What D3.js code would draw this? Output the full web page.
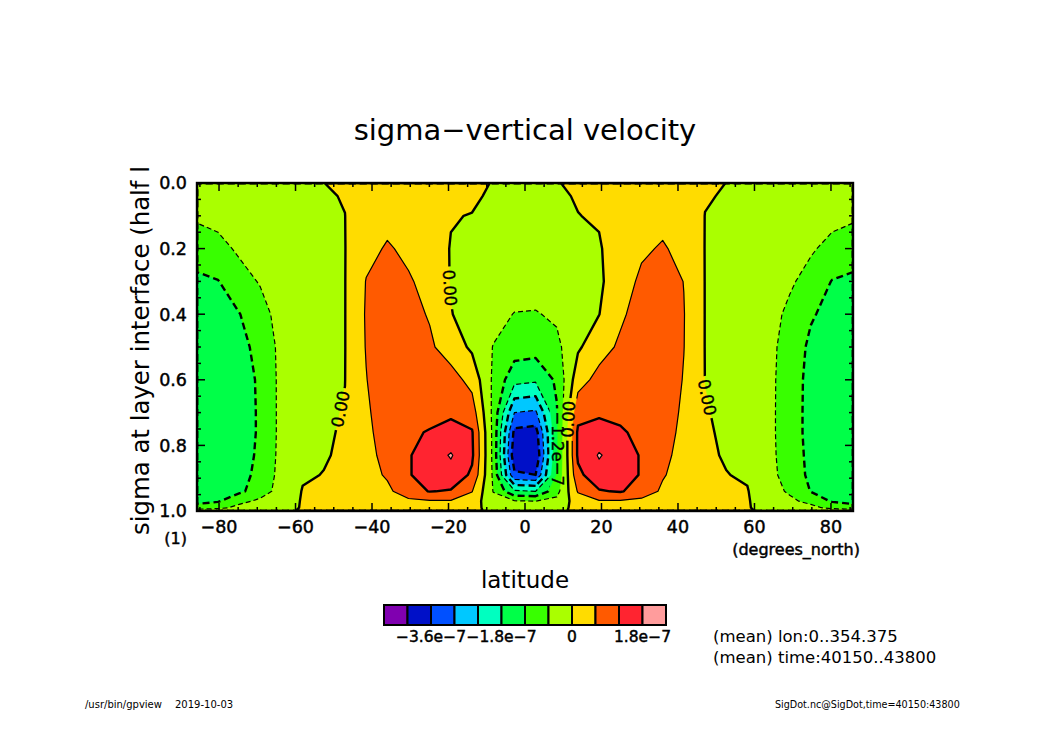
<!DOCTYPE html>
<html><head><meta charset="utf-8">
<script src="https://cdn.jsdelivr.net/npm/d3@7"></script>
<style>body{margin:0;background:#fff} text{font-family:'DejaVu Sans',sans-serif}</style>
</head><body>
<svg id="c" width="1050" height="742" xmlns="http://www.w3.org/2000/svg"></svg>
<script>
// ---------------- data ----------------
// latitudes (T21 Gaussian grid, degrees_north)
const lats = [-85.76,-80.27,-74.74,-69.21,-63.68,-58.14,-52.61,-47.07,-41.53,-36.00,-30.46,-24.92,-19.38,-13.84,-8.31,-2.77,
               2.77,8.31,13.84,19.38,24.92,30.46,36.00,41.53,47.07,52.61,58.14,63.68,69.21,74.74,80.27,85.76];
// sigma at layer interface
const sigmas = [0,0.04,0.1,0.2,0.3,0.4,0.5,0.6,0.7,0.76,0.83,0.89,0.94,0.97,0.99,1.0];
// contour levels (units of 1e-7)
const levels = [-4.2,-3.6,-3.0,-2.4,-1.8,-1.2,-0.6,0,0.6,1.2,1.8];
const colors = ["#8000b0","#0010c8","#0050ff","#00c8ff","#00ffc0","#00ff48","#38ff00","#aaff00","#ffdc00","#ff5a00","#ff2430","#ff9c9c"];
const cbTicks = [-3.6,-1.8,0,1.8];
const xTicks = [-80,-60,-40,-20,0,20,40,60,80];
const yTicks = [0,0.2,0.4,0.6,0.8,1.0];
// sigma-vertical velocity (1e-7 s-1); one row per latitude, values along sigmas
const sigmaDot = [
 [-0.05,-0.2,-0.5,-0.95,-1.3,-1.45,-1.55,-1.6,-1.6,-1.6,-1.55,-1.5,-1.45,-1.35,-1.0,-0.1],
 [-0.04,-0.15,-0.4,-0.8,-1.22,-1.35,-1.45,-1.5,-1.5,-1.5,-1.45,-1.4,-1.35,-1.25,-0.8,-0.08],
 [-0.03,-0.1,-0.25,-0.5,-0.85,-1.22,-1.3,-1.35,-1.35,-1.35,-1.32,-1.3,-1.3,-0.8,-0.4,-0.05],
 [-0.02,-0.06,-0.15,-0.3,-0.55,-0.85,-1.1,-1.15,-1.16,-1.16,-1.15,-1.12,-0.95,-0.45,-0.2,-0.03],
 [-0.02,-0.05,-0.1,-0.2,-0.28,-0.34,-0.4,-0.42,-0.42,-0.42,-0.4,-0.35,-0.3,-0.2,-0.1,-0.02],
 [-0.02,-0.04,-0.07,-0.12,-0.17,-0.2,-0.22,-0.22,-0.2,-0.15,-0.1,-0.04,0.02,0.03,0.02,0.01],
 [-0.002,-0.03,-0.05,-0.07,-0.08,-0.09,-0.09,-0.08,-0.06,-0.05,-0.03,0.01,0.05,0.06,0.04,0.01],
 [0.05,0.016,-0.003,-0.01,-0.01,-0.01,-0.01,-0.005,0.02,0.04,0.06,0.1,0.12,0.1,0.05,0.01],
 [0.1,0.2,0.3,0.45,0.62,0.65,0.63,0.58,0.5,0.45,0.4,0.35,0.3,0.2,0.1,0.02],
 [0.15,0.3,0.45,0.65,0.85,0.95,1.0,1.0,0.95,0.9,0.8,0.68,0.45,0.35,0.2,0.03],
 [0.1,0.2,0.35,0.5,0.65,0.8,0.9,1.0,1.1,1.15,1.15,1.15,1.0,0.45,0.2,0.03],
 [0.08,0.15,0.25,0.35,0.45,0.55,0.7,0.9,1.1,1.22,1.5,1.5,1.22,0.55,0.25,0.02],
 [0.1,0.08,0.03,-0.03,-0.03,0.02,0.3,0.85,1.1,1.4,1.85,1.6,1.15,0.55,0.25,0.02],
 [0.15,0.1,-0.02,-0.15,-0.2,-0.2,-0.1,0.4,0.9,1.25,1.3,1.1,0.62,0.3,0.12,0.02],
 [-0.03,-0.1,-0.15,-0.25,-0.3,-0.4,-0.62,-0.7,-0.75,-0.75,-0.75,-0.7,-0.62,-0.4,-0.15,-0.02],
 [-0.02,-0.05,-0.1,-0.2,-0.3,-0.62,-0.9,-1.6,-3.0,-3.75,-4.0,-3.5,-1.7,-0.55,-0.2,-0.03],
 [-0.02,-0.05,-0.1,-0.2,-0.32,-0.64,-0.95,-1.7,-3.1,-3.85,-4.1,-3.6,-1.8,-0.6,-0.2,-0.03],
 [-0.03,-0.08,-0.15,-0.3,-0.45,-0.5,-0.75,-1.1,-1.25,-1.3,-1.3,-1.15,-0.8,-0.45,-0.15,-0.02],
 [0.12,0.04,-0.01,-0.12,-0.18,-0.18,-0.08,0.35,1.0,1.3,1.3,1.05,0.65,0.3,0.12,0.02],
 [0.12,0.1,0.05,-0.05,-0.1,-0.01,0.35,0.8,1.1,1.45,1.85,1.6,1.15,0.55,0.25,0.02],
 [0.08,0.15,0.25,0.3,0.35,0.5,0.7,0.9,1.1,1.25,1.5,1.5,1.25,0.55,0.25,0.02],
 [0.1,0.2,0.35,0.52,0.7,0.85,0.95,1.0,1.05,1.1,1.15,1.15,0.95,0.45,0.2,0.02],
 [0.15,0.3,0.45,0.65,0.85,0.95,1.0,0.95,0.9,0.85,0.75,0.65,0.5,0.35,0.15,0.02],
 [0.1,0.2,0.3,0.45,0.59,0.62,0.61,0.57,0.5,0.45,0.4,0.35,0.3,0.2,0.1,0.02],
 [0.05,0.02,-0.005,-0.01,-0.01,-0.01,-0.01,-0.005,0.02,0.04,0.06,0.1,0.12,0.1,0.05,0.01],
 [-0.002,-0.02,-0.05,-0.07,-0.08,-0.09,-0.09,-0.08,-0.06,-0.05,-0.03,0.01,0.05,0.06,0.04,0.01],
 [-0.02,-0.04,-0.07,-0.12,-0.17,-0.2,-0.22,-0.22,-0.2,-0.15,-0.1,-0.04,0.02,0.03,0.02,0.01],
 [-0.02,-0.05,-0.1,-0.2,-0.28,-0.34,-0.4,-0.42,-0.42,-0.42,-0.4,-0.35,-0.3,-0.2,-0.1,-0.02],
 [-0.02,-0.06,-0.15,-0.3,-0.5,-0.75,-0.9,-0.95,-0.97,-0.97,-0.96,-0.93,-0.7,-0.45,-0.2,-0.03],
 [-0.03,-0.1,-0.25,-0.52,-0.85,-1.15,-1.3,-1.35,-1.35,-1.35,-1.32,-1.3,-1.22,-0.8,-0.4,-0.05],
 [-0.04,-0.15,-0.4,-0.8,-1.22,-1.35,-1.45,-1.5,-1.5,-1.5,-1.45,-1.4,-1.35,-1.25,-0.8,-0.08],
 [-0.05,-0.2,-0.5,-0.95,-1.3,-1.45,-1.55,-1.6,-1.6,-1.6,-1.55,-1.5,-1.45,-1.35,-1.0,-0.1]
];
// contour labels: level and approximate place along the line
const labelLevels = [0, 0, 0, -1.2, 0];
const labelLats   = [-20, -48, 10.8, 8, 49];
const labelSigmas = [0.32, 0.69, 0.72, 0.81, 0.65];
const labelDirs   = ["down", "up", "up", "down", "down"];

// ---------------- layout ----------------
const L = 197, R = 853, T = 183, B = 511;
const svg = d3.select("#c");
const x = d3.scaleLinear().domain([lats[0], lats[lats.length - 1]]).range([L, R]);
const y = d3.scaleLinear().domain([0, 1]).range([T, B]);
const fmtCb = v => v === 0 ? "0" : (v < 0 ? "\u2212" : "") + Math.abs(v).toFixed(1) + "e\u22127";
const fmtLine = v => v === 0 ? "0.00" : fmtCb(v);

const defs = svg.append("defs");
defs.append("clipPath").attr("id", "plotclip").append("rect")
  .attr("x", L).attr("y", T).attr("width", R - L).attr("height", B - T);
const mask = defs.append("mask").attr("id", "labmask").attr("maskUnits", "userSpaceOnUse")
  .attr("x", 0).attr("y", 0).attr("width", 1050).attr("height", 742);
mask.append("rect").attr("x", 0).attr("y", 0).attr("width", 1050).attr("height", 742).attr("fill", "#fff");

// ---------------- contours ----------------
const nx = lats.length, ny = sigmas.length;
const values = new Array(nx * ny);
for (let j = 0; j < ny; j++) for (let i = 0; i < nx; i++) values[j * nx + i] = sigmaDot[i][j];
const contours = d3.contours().size([nx, ny]).thresholds(levels)(values);
const iLat = d3.scaleLinear().domain(d3.range(nx)).range(lats).clamp(true);
const iSig = d3.scaleLinear().domain(d3.range(ny)).range(sigmas).clamp(true);
const toScreen = (px, py) => [x(iLat(px - 0.5)), y(iSig(py - 0.5))];
const proj = d3.geoTransform({ point(px, py) { const p = toScreen(px, py); this.stream.point(p[0], p[1]); } });
const path = d3.geoPath(proj);

const fills = svg.append("g").attr("clip-path", "url(#plotclip)");
fills.append("rect").attr("x", L).attr("y", T).attr("width", R - L).attr("height", B - T).attr("fill", colors[0]);
fills.selectAll("path").data(contours).join("path")
  .attr("d", path)
  .attr("fill", (d, k) => colors[k + 1])
  .attr("stroke", (d, k) => colors[k + 1]).attr("stroke-width", 0.3);

const isThick = v => Math.abs(Math.round(v / 0.6)) % 2 === 0;
const lines = svg.append("g").attr("clip-path", "url(#plotclip)").append("g").attr("mask", "url(#labmask)");
lines.selectAll("path").data(contours).join("path")
  .attr("d", path)
  .attr("fill", "none")
  .attr("stroke", "#000")
  .attr("stroke-linejoin", "round")
  .attr("stroke-width", d => isThick(d.value) ? 2.4 : 1.2)
  .attr("stroke-dasharray", d => d.value < 0 ? (isThick(d.value) ? "7,4" : "5,3") : null);

// ---------------- contour labels ----------------
const labG = svg.append("g");
labelLevels.forEach((lev, n) => {
  const c = contours.find(cc => Math.abs(cc.value - lev) < 1e-9);
  const tx = x(labelLats[n]), ty = y(labelSigmas[n]);
  let best = null;
  const onEdge = p => p[0] < L + 0.8 || p[0] > R - 0.8 || p[1] < T + 0.8 || p[1] > B - 0.8;
  c.coordinates.forEach(poly => poly.forEach(ring => {
    const pts = ring.map(p => toScreen(p[0], p[1]));
    for (let k = 0; k < pts.length - 1; k++) {
      const a = pts[k], b = pts[k + 1];
      if (onEdge(a) && onEdge(b)) continue;
      const dx = b[0] - a[0], dy = b[1] - a[1];
      const len2 = dx * dx + dy * dy; if (len2 === 0) continue;
      let t = ((tx - a[0]) * dx + (ty - a[1]) * dy) / len2; t = Math.max(0, Math.min(1, t));
      const qx = a[0] + t * dx, qy = a[1] + t * dy;
      const dist = (qx - tx) ** 2 + (qy - ty) ** 2;
      if (!best || dist < best.dist) best = { dist, qx, qy, ang: Math.atan2(dy, dx) * 180 / Math.PI };
    }
  }));
  if (!best) return;
  let a = best.ang;
  if (labelDirs[n] === "down") { if (a < 0) a += 180; } else { if (a > 0) a -= 180; }
  const t = labG.append("text")
    .attr("transform", `translate(${best.qx},${best.qy}) rotate(${a})`)
    .attr("text-anchor", "middle").attr("dy", "0.36em")
    .attr("font-size", 16.5).attr("fill", "#000").attr("stroke", "#000").attr("stroke-width", 0.35)
    .text(fmtLine(lev));
  const w = t.node().getComputedTextLength();
  mask.append("rect")
    .attr("x", -w / 2 - 3).attr("y", -8).attr("width", w + 6).attr("height", 16)
    .attr("transform", `translate(${best.qx},${best.qy}) rotate(${a})`)
    .attr("fill", "#000");
});

// ---------------- frame & ticks ----------------
const axG = svg.append("g").attr("stroke", "#000").attr("stroke-width", 1.5);
const xMinor = d3.range(-85, 86, 5).filter(v => !xTicks.includes(v));
const yMinor = d3.range(0, 21).map(v => v * 0.05).filter(v => !yTicks.some(t => Math.abs(t - v) < 1e-9));
[[xTicks, 8], [xMinor, 4]].forEach(([arr, len]) => arr.forEach(v => {
  axG.append("line").attr("x1", x(v)).attr("x2", x(v)).attr("y1", B).attr("y2", B - len);
  axG.append("line").attr("x1", x(v)).attr("x2", x(v)).attr("y1", T).attr("y2", T + len);
}));
[[yTicks, 8], [yMinor, 4]].forEach(([arr, len]) => arr.forEach(v => {
  axG.append("line").attr("y1", y(v)).attr("y2", y(v)).attr("x1", L).attr("x2", L + len);
  axG.append("line").attr("y1", y(v)).attr("y2", y(v)).attr("x1", R).attr("x2", R - len);
}));
svg.append("rect").attr("x", L).attr("y", T).attr("width", R - L).attr("height", B - T)
  .attr("fill", "none").attr("stroke", "#000").attr("stroke-width", 2.4);

const boldish = sel => sel.attr("stroke", "#000").attr("stroke-width", 0.45);
boldish(svg.append("g").selectAll("text").data(xTicks).join("text")
  .attr("x", d => x(d)).attr("y", 533).attr("text-anchor", "middle").attr("font-size", 17.5)
  .text(d => d < 0 ? "\u2212" + (-d) : String(d)));
boldish(svg.append("g").selectAll("text").data(yTicks).join("text")
  .attr("x", 187).attr("y", d => y(d)).attr("dy", "0.36em").attr("text-anchor", "end").attr("font-size", 17.5)
  .text(d => d3.format(".1f")(d)));
boldish(svg.append("text").attr("x", 187).attr("y", 544).attr("text-anchor", "end").attr("font-size", 16).text("(1)"));
boldish(svg.append("text").attr("x", 860).attr("y", 555).attr("text-anchor", "end").attr("font-size", 16).text("(degrees_north)"));

svg.append("text").attr("x", 525).attr("y", 140).attr("text-anchor", "middle").attr("font-size", 29)
  .text("sigma\u2212vertical velocity");
svg.append("text").attr("x", 525).attr("y", 588).attr("text-anchor", "middle").attr("font-size", 23).text("latitude");
svg.append("text").attr("transform", "translate(149,535) rotate(-90)").attr("font-size", 24.4)
  .text("sigma at layer interface (half l");

// ---------------- colour bar ----------------
const cb = d3.scaleLinear().domain([0, colors.length]).range([384, 666]);
svg.append("g").selectAll("rect").data(colors).join("rect")
  .attr("x", (d, i) => cb(i)).attr("y", 605).attr("width", cb(1) - cb(0)).attr("height", 20)
  .attr("fill", d => d).attr("stroke", "#000").attr("stroke-width", 2);
boldish(svg.append("g").selectAll("text").data(cbTicks).join("text")
  .attr("x", d => cb(levels.indexOf(d) + 1)).attr("y", 642).attr("text-anchor", "middle").attr("font-size", 15.5)
  .text(fmtCb));

svg.append("text").attr("x", 713).attr("y", 642).attr("font-size", 16.5).text("(mean) lon:0..354.375");
svg.append("text").attr("x", 713).attr("y", 663).attr("font-size", 16.5).text("(mean) time:40150..43800");
svg.append("text").attr("x", 85).attr("y", 708).attr("font-size", 10).text("/usr/bin/gpview");
svg.append("text").attr("x", 175).attr("y", 708).attr("font-size", 10).text("2019-10-03");
svg.append("text").attr("x", 775).attr("y", 708).attr("font-size", 9.6).text("SigDot.nc@SigDot,time=40150:43800");
</script>
</body></html>
